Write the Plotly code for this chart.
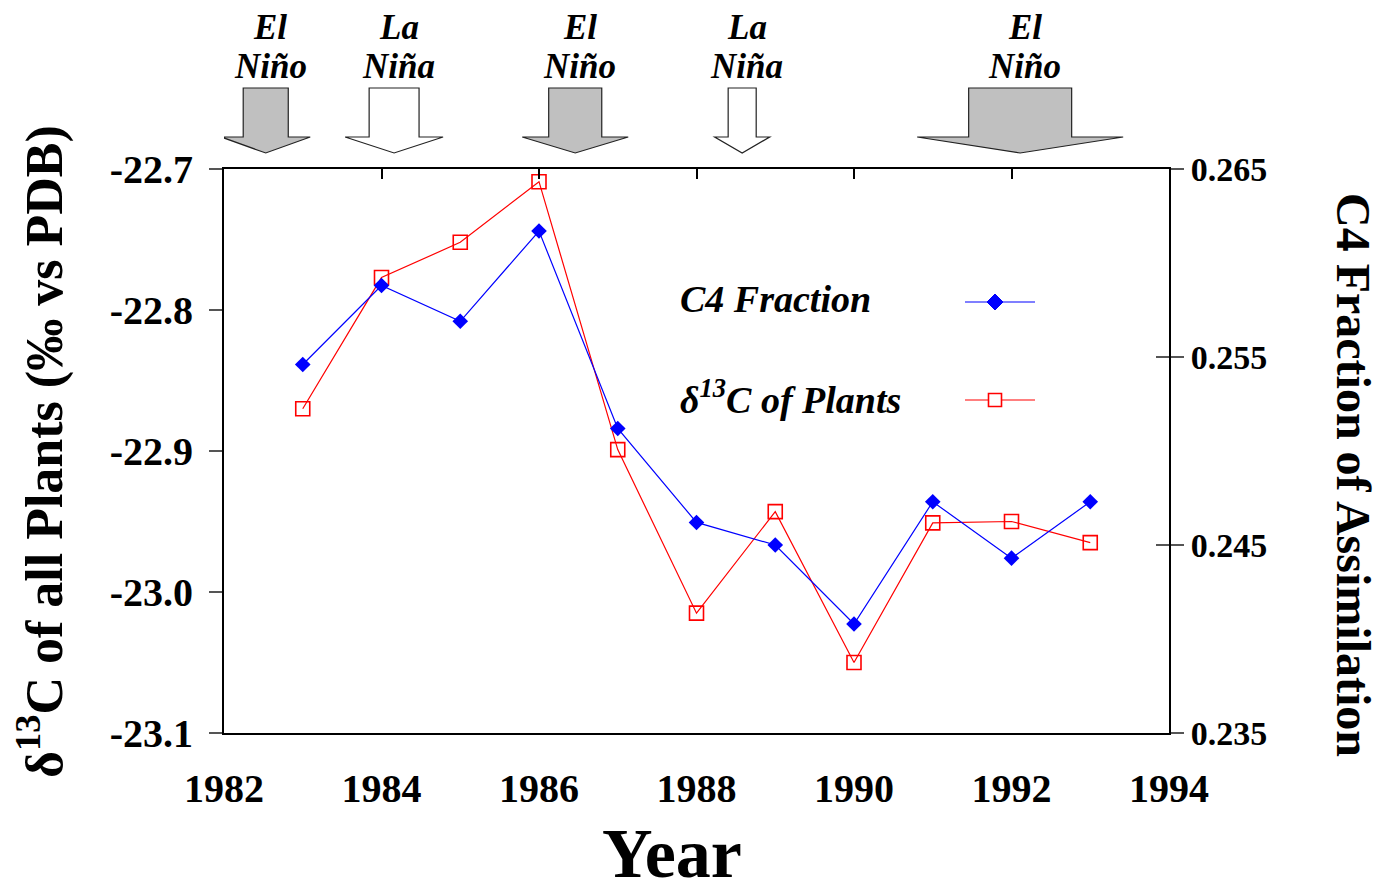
import plotly.graph_objects as go

# Annual values
years = [1983, 1984, 1985, 1986, 1987, 1988, 1989, 1990, 1991, 1992, 1993]
c4_fraction = [0.2546, 0.2588, 0.2569, 0.2617, 0.2512, 0.2462, 0.2450, 0.2408, 0.2473, 0.2443, 0.2473]
d13c_plants = [-22.870, -22.777, -22.752, -22.709, -22.899, -23.015, -22.943, -23.050, -22.951, -22.950, -22.965]

# ENSO events marked above the plot
event_names = ["El<br>Niño", "La<br>Niña", "El<br>Niño", "La<br>Niña", "El<br>Niño"]
event_centers = [1982.53, 1984.16, 1986.46, 1988.58, 1992.11]
event_shaft_half = [0.286, 0.317, 0.337, 0.178, 0.654]
event_head_half = [0.565, 0.622, 0.673, 0.349, 1.308]
event_warm = [True, False, True, False, True]

x_ticks = [1982, 1984, 1986, 1988, 1990, 1992, 1994]
left_ticks = [-22.7, -22.8, -22.9, -23.0, -23.1]
right_ticks = [0.265, 0.255, 0.245, 0.235]

SERIF = "Liberation Serif"
BLUE = "#0000ff"
RED = "#ff0000"

fig = go.Figure()

fig.add_trace(go.Scatter(
    x=years, y=d13c_plants, mode="lines+markers", name="δ13C of Plants",
    line=dict(color=RED, width=1.2),
    marker=dict(symbol="square-open", size=14, color=RED, line=dict(width=1.6, color=RED)),
    xaxis="x", yaxis="y",
))
fig.add_trace(go.Scatter(
    x=years, y=c4_fraction, mode="lines+markers", name="C4 Fraction",
    line=dict(color=BLUE, width=1.2),
    marker=dict(symbol="diamond", size=12, color=BLUE),
    xaxis="x", yaxis="y2",
))

left_font = dict(family=SERIF, size=40, color="black", weight="bold")
right_font = dict(family=SERIF, size=34, color="black", weight="bold")

fig.update_layout(
    width=1386, height=893,
    margin=dict(l=224, r=217, t=169, b=160),
    paper_bgcolor="white", plot_bgcolor="white",
    showlegend=False,
    xaxis=dict(
        range=[1982, 1994], tickvals=x_ticks, ticktext=[str(v) for v in x_ticks],
        showgrid=False, zeroline=False, showline=True, linecolor="black", linewidth=2,
        ticks="", tickfont=left_font, ticklabelstandoff=19,
    ),
    xaxis2=dict(
        range=[1982, 1994], overlaying="x", side="top", tickvals=x_ticks,
        showticklabels=False, showgrid=False, zeroline=False, showline=True,
        linecolor="black", linewidth=2, ticks="inside", ticklen=10, tickwidth=1.5,
        tickcolor="black",
    ),
    yaxis=dict(
        range=[-23.1, -22.7], tickvals=left_ticks, ticktext=[f"{v:.1f}" for v in left_ticks],
        showgrid=False, zeroline=False, showline=True, linecolor="black", linewidth=2,
        ticks="outside", ticklen=13, tickwidth=1.5, tickcolor="#555555",
        tickfont=left_font, ticklabelstandoff=8,
    ),
    yaxis2=dict(
        range=[0.235, 0.265], overlaying="y", side="right", tickvals=right_ticks,
        ticktext=[f"{v:.3f}" for v in right_ticks],
        showgrid=False, zeroline=False, showline=True, linecolor="black", linewidth=2,
        ticks="outside", ticklen=13, tickwidth=1.5, tickcolor="#555555",
        tickfont=right_font, ticklabelstandoff=0,
    ),
    yaxis3=dict(
        range=[0.235, 0.265], overlaying="y", side="right", tickvals=right_ticks,
        showticklabels=False, showgrid=False, zeroline=False, showline=False,
        ticks="inside", ticklen=13, tickwidth=1.5, tickcolor="#555555",
    ),
)

# helper traces so the extra axes are rendered
fig.add_trace(go.Scatter(x=[None], y=[None], xaxis="x2", yaxis="y", showlegend=False, hoverinfo="skip"))
fig.add_trace(go.Scatter(x=[None], y=[None], xaxis="x", yaxis="y3", showlegend=False, hoverinfo="skip"))

# ENSO arrows (x in years, y in paper units above the frame)
shaft_top, head_base, tip = 1.1436, 1.0567, 1.0284
shapes = []
annotations = []
for name, cx, sh, hh, warm in zip(event_names, event_centers, event_shaft_half,
                                  event_head_half, event_warm):
    path = (f"M {cx - sh},{shaft_top} L {cx + sh},{shaft_top} L {cx + sh},{head_base} "
            f"L {cx + hh},{head_base} L {cx},{tip} L {cx - hh},{head_base} "
            f"L {cx - sh},{head_base} Z")
    shapes.append(dict(type="path", path=path, xref="x", yref="paper",
                       fillcolor="#c0c0c0" if warm else "white",
                       line=dict(color="#222222", width=1.2), layer="above"))
    top_word, bottom_word = name.split("<br>")
    for word, ypix in ((top_word, 27), (bottom_word, 67)):
        annotations.append(dict(
            text=word, x=cx + 0.06, xref="x", y=(733 - ypix) / 564, yref="paper",
            xanchor="center", yanchor="middle", showarrow=False,
            font=dict(family=SERIF, size=35, color="black", style="italic", weight="bold"),
        ))


# Legend block inside the plot
def px(xp):
    return (xp - 224) / 945


def py(yp):
    return (733 - yp) / 564


legend_rows = [("<i>C4 Fraction</i>", 302, BLUE, "diamond"),
               ("<i>δ<sup>13</sup>C of Plants</i>", 400, RED, "square")]
for label, ypix, color, sym in legend_rows:
    annotations.append(dict(
        text=label, x=px(678), xref="paper", y=py(ypix - 3), yref="paper",
        xanchor="left", yanchor="middle", showarrow=False,
        font=dict(family=SERIF, size=38, color="black", weight="bold"),
    ))
    shapes.append(dict(type="line", xref="paper", yref="paper",
                       x0=px(965), x1=px(1035), y0=py(ypix), y1=py(ypix),
                       line=dict(color=color, width=1.2)))
    if sym == "diamond":
        d = 8
        path = (f"M {px(995 - d)},{py(ypix)} L {px(995)},{py(ypix - d)} "
                f"L {px(995 + d)},{py(ypix)} L {px(995)},{py(ypix + d)} Z")
        shapes.append(dict(type="path", path=path, xref="paper", yref="paper",
                           fillcolor=color, line=dict(color=color, width=1)))
    else:
        s = 6.5
        shapes.append(dict(type="rect", xref="paper", yref="paper",
                           x0=px(995 - s), x1=px(995 + s), y0=py(ypix + s), y1=py(ypix - s),
                           fillcolor="white", line=dict(color=color, width=1.6)))

# Axis titles
annotations.append(dict(
    text="δ<sup>13</sup>C of all Plants (‰ vs PDB)", x=0, xref="paper", xshift=-183,
    y=py(452), yref="paper", xanchor="center", yanchor="middle", textangle=-90,
    showarrow=False, font=dict(family=SERIF, size=52, color="black", weight="bold"),
))
annotations.append(dict(
    text="C4 Fraction of Assimilation", x=1, xref="paper", xshift=1354 - 1169,
    y=py(475), yref="paper", xanchor="center", yanchor="middle", textangle=90,
    showarrow=False, font=dict(family=SERIF, size=48, color="black", weight="bold"),
))
annotations.append(dict(
    text="Year", x=px(672), xref="paper", y=py(853), yref="paper",
    xanchor="center", yanchor="middle", showarrow=False,
    font=dict(family=SERIF, size=70, color="black", weight="bold"),
))

fig.update_layout(shapes=shapes, annotations=annotations)

fig.write_html("out.html")
